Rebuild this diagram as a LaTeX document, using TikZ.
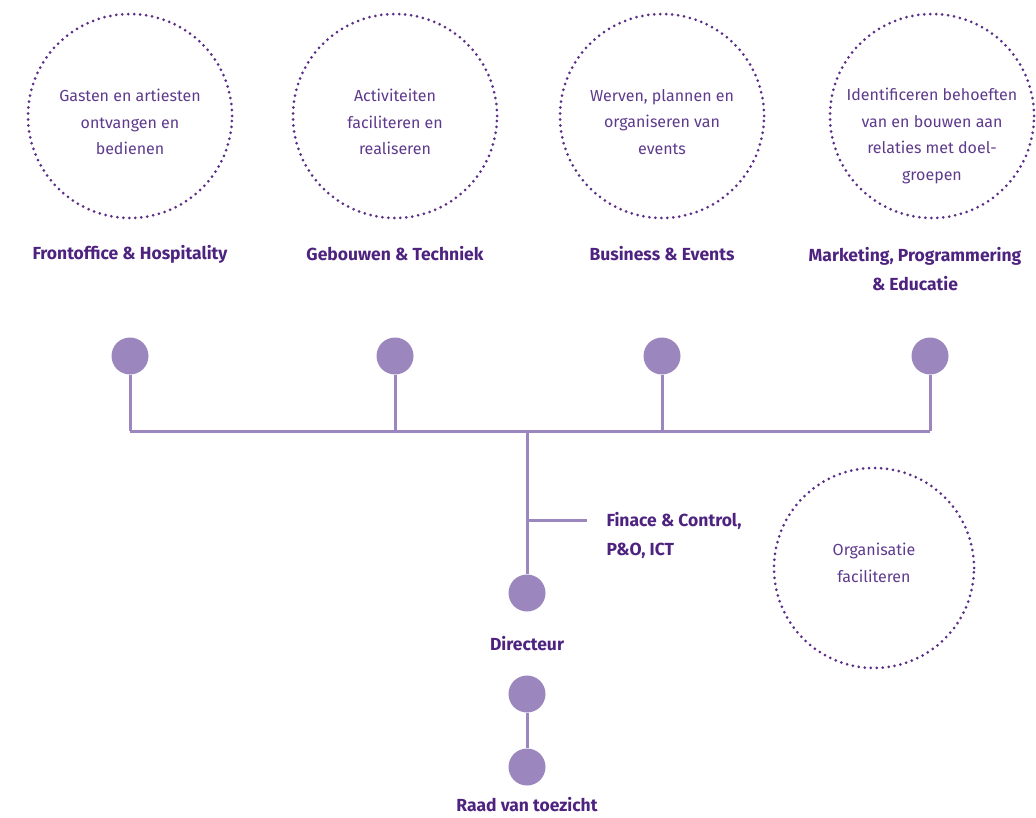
\documentclass[tikz,border=0pt]{standalone}
\usepackage{fontspec}
\setmainfont{Fira Sans}
\definecolor{txt}{HTML}{5E3A8C}
\definecolor{head}{HTML}{4E2380}
\definecolor{dotc}{HTML}{5A2E87}
\definecolor{fillc}{HTML}{9C86BE}
\tikzset{
  x=1pt, y=-1pt,
  ring/.style={circle, draw=dotc, line width=3pt, dash pattern=on 0pt off 6pt, line cap=round, minimum size=204pt, inner sep=0pt},
  ringtext/.style={text=txt, font=\fontsize{16}{26.5}\selectfont, align=center},
  headlbl/.style={text=head, font=\fontsize{17.5}{29}\selectfont\bfseries, align=center},
  knob/.style={circle, fill=fillc, minimum size=37pt, inner sep=0pt},
  link/.style={draw=fillc, line width=3pt}
}
\begin{document}
\begin{tikzpicture}
\useasboundingbox (0,0) rectangle (1036,818);
% rings
\node[ring] (r1) at (130,116) {};
\node[ring] (r2) at (395,116) {};
\node[ring] (r3) at (662,116) {};
\node[ring] (r4) at (932,116) {};
\node[ring, minimum size=200pt] (r5) at (874,568) {};
\node[ringtext] (t1) at (130,122) {Gasten en artiesten\\ontvangen en\\bedienen};
\node[ringtext] (t2) at (395,122) {Activiteiten\\faciliteren en\\realiseren};
\node[ringtext] (t3) at (662,122) {Werven, plannen en\\organiseren van\\events};
\node[ringtext] (t4) at (932,136) {Identificeren behoeften\\van en bouwen aan\\relaties met doel-\\groepen};
\node[ringtext] (t5) at (874,563) {Organisatie\\faciliteren};
% headings
\node[headlbl] (h1) at (130,254) {Frontoffice \& Hospitality};
\node[headlbl] (h2) at (395,254) {Gebouwen \& Techniek};
\node[headlbl] (h3) at (662,254) {Business \& Events};
\node[headlbl] (h4) at (915,269) {Marketing, Programmering\\\& Educatie};
% knobs
\coordinate (j1) at (130,431);
\coordinate (j2) at (395,431);
\coordinate (j3) at (662,431);
\coordinate (j4) at (930,431);
\coordinate (jc) at (527,431);
\coordinate (bs) at (527,520);
\coordinate (be) at (587,520);
\draw[link] (j1) -- (j4);
\node[knob] (k1) at (130,356) {};
\node[knob] (k2) at (395,356) {};
\node[knob] (k3) at (662,356) {};
\node[knob] (k4) at (930,356) {};
\node[knob] (kd) at (527,593) {};
\node[knob] (ka) at (527,694) {};
\node[knob] (kr) at (527,767) {};
\draw[link] (k1) -- (j1);
\draw[link] (k2) -- (j2);
\draw[link] (k3) -- (j3);
\draw[link] (k4) -- (j4);
\draw[link] (jc) -- (kd);
\draw[link] (bs) -- (be);
\draw[link] (ka) -- (kr);
\node[headlbl, anchor=west, align=left] (fc) at (603,535) {Finace \& Control,\\P\&O, ICT};
\node[headlbl] (dl) at (527,644) {Directeur};
\node[headlbl] (rl) at (527,805) {Raad van toezicht};
\end{tikzpicture}
\end{document}
